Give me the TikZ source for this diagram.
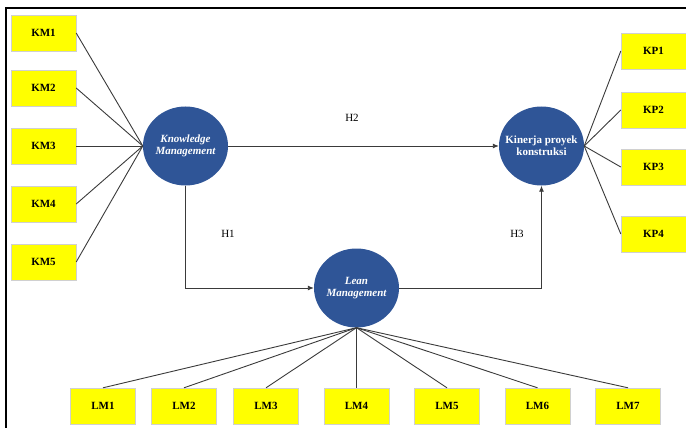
\documentclass[tikz,border=0pt]{standalone}
\usepackage{fontspec}
\setmainfont{Liberation Serif}
\usetikzlibrary{arrows.meta,positioning,calc,shapes.geometric}
\definecolor{navy}{HTML}{2F5597}
\definecolor{hilite}{HTML}{FFFF00}
\definecolor{rim}{HTML}{D0D0D0}
\definecolor{wire}{HTML}{3A3A3A}
\tikzset{
  indic/.style={draw=rim,fill=hilite,minimum width=65pt,minimum height=36pt,inner sep=0pt,font=\fontsize{11}{12}\selectfont\bfseries},
  latent/.style={ellipse,fill=navy,text=white,minimum width=85pt,minimum height=79pt,inner xsep=-8pt,inner ysep=0pt,align=center,font=\fontsize{11}{12.5}\selectfont\bfseries},
  link/.style={wire,line width=0.9pt},
  path/.style={wire,line width=0.9pt,-{Latex[length=6pt,width=5pt]}},
  hyp/.style={font=\fontsize{11}{12}\selectfont}
}
\begin{document}
\begin{tikzpicture}[x=1pt,y=-1pt]
\useasboundingbox (0,0) rectangle (686,428);
\draw[line width=2pt] (5.5,428)--(5.5,8.5)--(686,8.5);
% latent variables
\node[latent] (km) at (185.5,146) {\itshape Knowledge\\\itshape Management};
\node[latent] (kp) at (541.5,146) {Kinerja proyek\\konstruksi};
\node[latent] (lm) at (356.5,288) {\itshape Lean\\\itshape Management};
% indicators
\foreach \i/\y in {1/33,2/88,3/146,4/204,5/262}{
  \node[indic] (km\i) at (43.5,\y) {KM\i};
  \draw[link] (km\i.east)--(km.west);
}
\foreach \i/\y in {1/51,2/110,3/167,4/234}{
  \node[indic] (kp\i) at (653.5,\y) {KP\i};
  \draw[link] (kp.east)--(kp\i.west);
}
\foreach \i/\x in {1/103,2/184,3/266,4/356.5,5/447,6/537.5,7/628}{
  \node[indic] (lm\i) at (\x,406) {LM\i};
  \draw[link] (lm.south)--(lm\i.north);
}
% hypotheses
\draw[path] (km.east)--(kp.west);
\draw[path] (km.south)|-(lm.west);
\draw[path] (lm.east)-|(kp.south);
\node[hyp] (h2) at (352,118) {H2};
\node[hyp] (h1) at (228,234) {H1};
\node[hyp] (h3) at (517,234) {H3};
\end{tikzpicture}
\end{document}
